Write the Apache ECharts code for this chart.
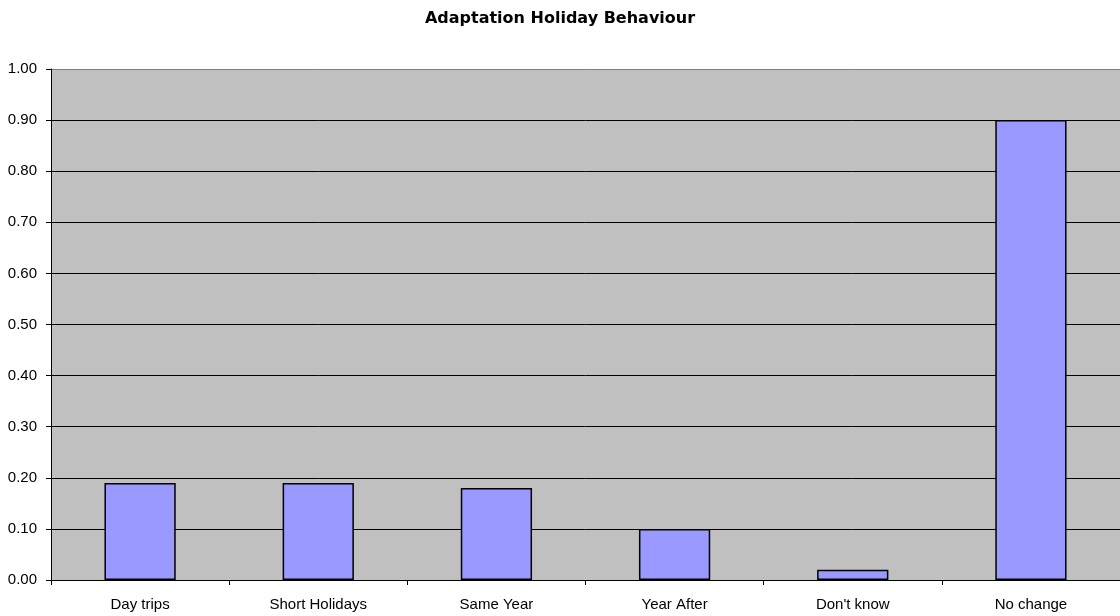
<!DOCTYPE html>
<html>
<head>
<meta charset="utf-8">
<script src="https://cdn.jsdelivr.net/npm/echarts@6/dist/echarts.min.js"></script>
<style>html,body{margin:0;padding:0;background:#fff}#c{width:1120px;height:616px}</style>
</head>
<body>
<div id="c"></div>
<script>
const categories = ["Day trips", "Short Holidays", "Same Year", "Year After", "Don't know", "No change"];
const values = [0.19, 0.19, 0.18, 0.10, 0.02, 0.90];
const chartTitle = "Adaptation Holiday Behaviour";

const chart = echarts.init(document.getElementById('c'));
const gridColors = [];
for (let i = 0; i < 10; i++) gridColors.push('#000000');
gridColors.push('#808080');
chart.setOption({
  animation: false,
  title: {
    text: chartTitle, left: 'center', top: 6,
    textStyle: { fontFamily: 'DejaVu Sans', fontSize: 16, fontWeight: 'bold', color: '#000' }
  },
  grid: { left: 51, right: 0, top: 69, bottom: 36, show: true, backgroundColor: '#c0c0c0', borderWidth: 0 },
  xAxis: {
    type: 'category', data: categories,
    axisLine: { lineStyle: { color: '#000', width: 1 } },
    axisTick: { show: true, length: 5, alignWithLabel: false, lineStyle: { color: '#000' } },
    axisLabel: { fontFamily: 'Liberation Sans, Arial, sans-serif', fontSize: 15, color: '#000', margin: 17 }
  },
  yAxis: {
    type: 'value', min: 0, max: 1, interval: 0.1,
    axisLine: { show: true, lineStyle: { color: '#000', width: 1 } },
    axisTick: { show: true, length: 5, lineStyle: { color: '#000' } },
    axisLabel: { fontFamily: 'Liberation Sans, Arial, sans-serif', fontSize: 15, color: '#000', margin: 14,
      formatter: v => v.toFixed(2) },
    splitLine: { show: true, lineStyle: { color: gridColors, width: 1 } }
  },
  series: [{
    type: 'bar', data: values, barWidth: '40%',
    itemStyle: { color: '#9999ff', borderColor: '#000', borderWidth: 1.5 }
  }]
});
</script>
</body>
</html>
